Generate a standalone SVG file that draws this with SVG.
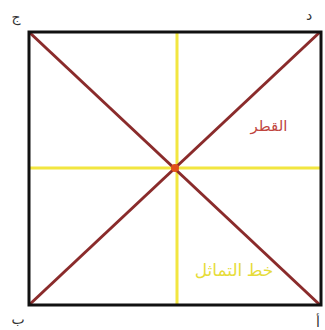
<svg xmlns="http://www.w3.org/2000/svg" width="325" height="330" viewBox="0 0 325 330">
<style>
.lbl{font-family:"Noto Sans","DejaVu Sans",sans-serif;fill:#333333;font-size:14px;text-anchor:middle}
.diag{stroke:#8a2b2b;stroke-width:3;fill:none}
.sym{stroke:#f2e640;stroke-width:3;fill:none}
</style>
<rect width="325" height="330" fill="#ffffff"/>
<g id="connectors">
<line class="sym" x1="177" y1="32" x2="177" y2="305"/>
<line class="sym" x1="29" y1="168" x2="322" y2="168"/>
<line class="diag" x1="29" y1="32" x2="320" y2="305"/>
<line class="diag" x1="29" y1="305" x2="320" y2="32"/>
</g>
<g id="square">
<rect x="29" y="32" width="292" height="273" fill="none" stroke="#111" stroke-width="3"/>
</g>
<g id="center">
<circle cx="175" cy="168" r="4" fill="#e0501a"/>
</g>
<g id="label-jim"><text class="lbl" x="16" y="22">ج</text></g>
<g id="label-dal"><text class="lbl" x="309" y="20">د</text></g>
<g id="label-ba"><text class="lbl" x="18" y="324">ب</text></g>
<g id="label-alif"><text class="lbl" x="318" y="327">أ</text></g>
<g id="label-diagonal"><text x="269" y="131" font-family="'Noto Sans','DejaVu Sans',sans-serif" font-size="15" fill="#c0453e" text-anchor="middle">القطر</text></g>
<g id="label-symmetry"><text x="234" y="276" font-family="'Noto Sans','DejaVu Sans',sans-serif" font-size="17" fill="#e6dc3a" text-anchor="middle">خط التماثل</text></g>
</svg>
